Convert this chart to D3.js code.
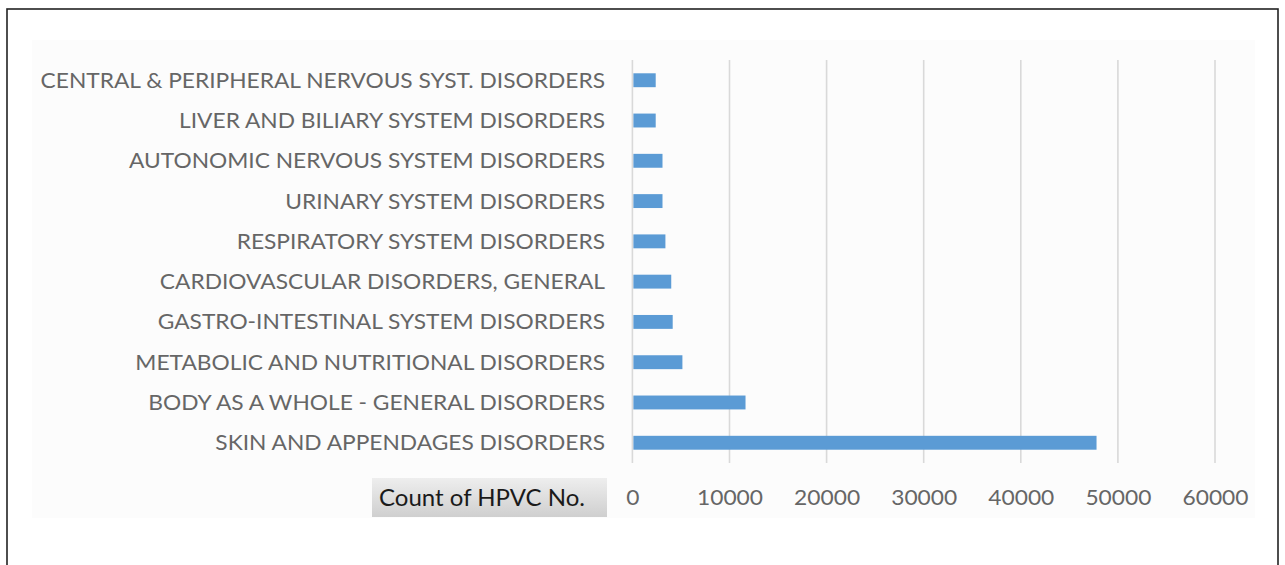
<!DOCTYPE html>
<html>
<head>
<meta charset="utf-8">
<script src="https://cdn.jsdelivr.net/npm/d3@7"></script>
<style>
  html, body { margin: 0; padding: 0; background: #fff; }
  svg { display: block; }
</style>
</head>
<body>
<svg id="chart" width="1285" height="565"></svg>
<script>
const categories = [
  "CENTRAL & PERIPHERAL NERVOUS SYST. DISORDERS",
  "LIVER AND BILIARY SYSTEM DISORDERS",
  "AUTONOMIC NERVOUS SYSTEM DISORDERS",
  "URINARY SYSTEM DISORDERS",
  "RESPIRATORY SYSTEM DISORDERS",
  "CARDIOVASCULAR DISORDERS, GENERAL",
  "GASTRO-INTESTINAL SYSTEM DISORDERS",
  "METABOLIC AND NUTRITIONAL DISORDERS",
  "BODY AS A WHOLE - GENERAL DISORDERS",
  "SKIN AND APPENDAGES DISORDERS"
];
const counts = [2400, 2400, 3100, 3100, 3400, 4000, 4150, 5150, 11650, 47800];
const tickValues = [0, 10000, 20000, 30000, 40000, 50000, 60000];
const fieldLabel = "Count of HPVC No.";

const svg = d3.select("#chart");
const FONT = "Lato, 'Open Sans', sans-serif";

// outer frame
svg.append("rect").attr("x", 7).attr("y", 9).attr("width", 1271).attr("height", 580)
  .attr("fill", "#fff").attr("stroke", "#222").attr("stroke-width", 1.6);
// light plot background
svg.append("rect").attr("x", 32).attr("y", 40).attr("width", 1223).attr("height", 478)
  .attr("fill", "#fcfcfc");

const margin = { left: 632.4, right: 1215, top: 60, bottom: 463 };
const x = d3.scaleLinear().domain([0, 60000]).range([margin.left, margin.right]);
const y = d3.scaleBand().domain(categories).range([margin.top, margin.bottom]).paddingInner(0.655).paddingOuter(0.33);

// gridlines
svg.append("g").selectAll("line").data(tickValues).join("line")
  .attr("x1", d => x(d)).attr("x2", d => x(d))
  .attr("y1", margin.top).attr("y2", margin.bottom)
  .attr("stroke", "#d9d9d9").attr("stroke-width", 1.6);

// bars
svg.append("g").selectAll("rect").data(categories).join("rect")
  .attr("x", x(0) + 1)
  .attr("y", d => y(d))
  .attr("width", (d, i) => x(counts[i]) - x(0) - 1)
  .attr("height", y.bandwidth())
  .attr("fill", "#5b9bd5");

// category labels
const labG = svg.append("g");
const labs = labG.selectAll("text").data(categories).join("text")
  .attr("x", 0)
  .attr("y", d => y(d) + y.bandwidth() / 2)
  .attr("dy", "0.36em")
  .attr("text-anchor", "end")
  .attr("font-family", FONT).attr("font-size", 21)
  .attr("fill", "#666666")
  .text(d => d);
const longest = d3.max(labs.nodes(), n => n.getComputedTextLength());
const sx = 565 / longest;
labG.attr("transform", `translate(605,0) scale(${sx},1)`);

// x-axis tick labels
const xAxis = d3.axisBottom(x).tickValues(tickValues).tickFormat(d3.format("d")).tickSize(0).tickPadding(0);
const axG = svg.append("g").attr("transform", `translate(0,${margin.bottom})`).call(xAxis);
axG.select(".domain").remove();
axG.selectAll("text")
  .attr("font-family", FONT).attr("font-size", 21)
  .attr("fill", "#666666").attr("y", 34).attr("dy", "0.36em")
  .each(function () {
    const w = this.getComputedTextLength();
    d3.select(this).attr("textLength", Math.min(66, w * sx)).attr("lengthAdjust", "spacingAndGlyphs");
  });

// field button
const defs = svg.append("defs");
const grad = defs.append("linearGradient").attr("id", "btn").attr("x1", 0).attr("y1", 0).attr("x2", 0).attr("y2", 1);
grad.append("stop").attr("offset", "0%").attr("stop-color", "#eeeeee");
grad.append("stop").attr("offset", "100%").attr("stop-color", "#cfcfcf");
svg.append("rect").attr("x", 372).attr("y", 478).attr("width", 235).attr("height", 39)
  .attr("fill", "url(#btn)");
svg.append("text").attr("x", 379).attr("y", 497.5).attr("dy", "0.36em")
  .attr("font-family", FONT).attr("font-size", 23).attr("fill", "#1a1a1a")
  .attr("textLength", 206).attr("lengthAdjust", "spacingAndGlyphs")
  .text(fieldLabel);
</script>
</body>
</html>
